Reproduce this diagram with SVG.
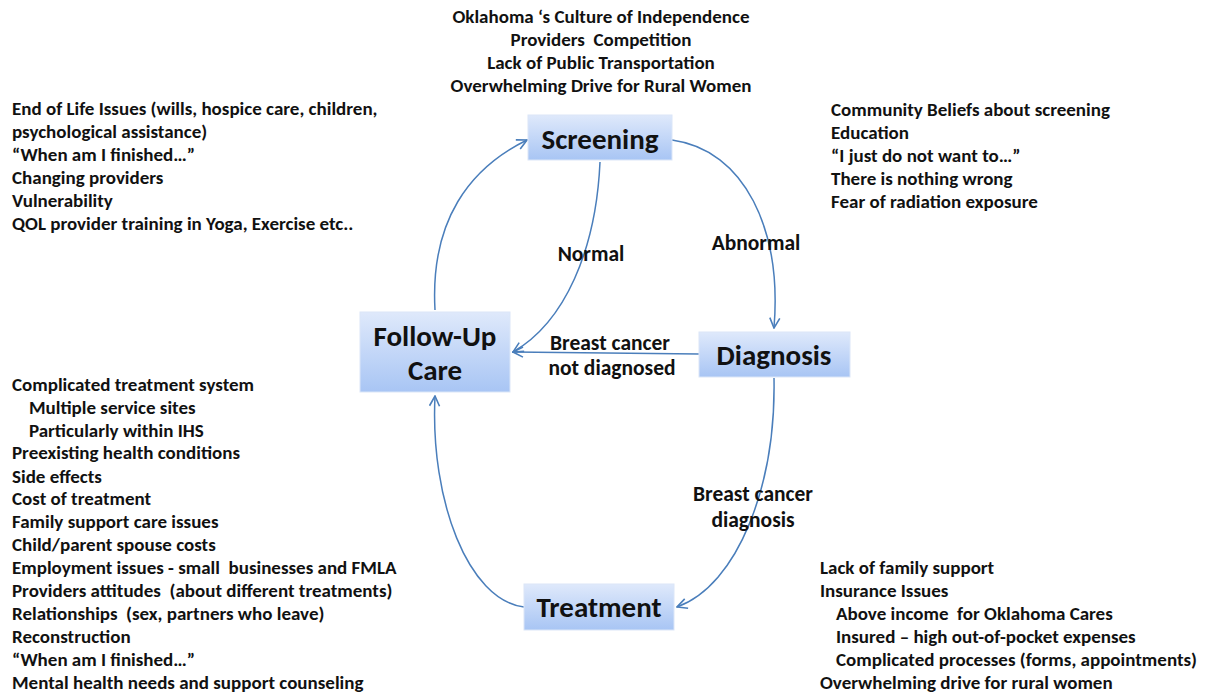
<svg xmlns="http://www.w3.org/2000/svg" width="1212" height="694" viewBox="0 0 1212 694">
<defs>
<linearGradient id="g" x1="0" y1="0" x2="0" y2="1">
<stop offset="0" stop-color="#dfe9fb"/>
<stop offset="1" stop-color="#a8c5f4"/>
</linearGradient>
<marker id="ah" viewBox="0 0 12 12" refX="11" refY="6" markerWidth="12" markerHeight="12" markerUnits="userSpaceOnUse" orient="auto">
<path d="M1,1 L11,6 L1,11" fill="none" stroke="#4a7ebb" stroke-width="1.6"/>
</marker>
</defs>
<style>
text{white-space:pre}
.t{font-family:"Carlito","Lato","Liberation Sans",sans-serif;font-weight:bold;font-size:19px;fill:#111}
.l{font-family:"Carlito","Lato","Liberation Sans",sans-serif;font-weight:bold;font-size:21.5px;fill:#111}
.n{font-family:"Carlito","Lato","Liberation Sans",sans-serif;font-weight:bold;font-size:29px;fill:#111;text-anchor:middle}
.box{fill:url(#g);stroke:#dbe6f8;stroke-width:1}
.c{fill:none;stroke:#4a7ebb;stroke-width:1.5;marker-end:url(#ah)}
</style>
<rect width="1212" height="694" fill="#fff"/>
<g id="connectors">
<path class="c" d="M672,140 C745,150 782,230 774,328"/>
<path class="c" d="M600,162 C596,250 565,322 513,352"/>
<path class="c" d="M699,354 L513,352"/>
<path class="c" d="M774,378 C776,485 738,585 677,607"/>
<path class="c" d="M524,607 C468,600 430,500 435,396"/>
<path class="c" d="M435,310 C430,220 470,168 527,140"/>
</g>
<g id="screening">
<rect class="box" x="528" y="115" width="144" height="45"/>
<text class="n" x="600" y="149">Screening</text>
</g>
<g id="followup">
<rect class="box" x="360" y="312" width="150" height="80"/>
<text class="n" x="435" y="346">Follow-Up</text>
<text class="n" x="435" y="380">Care</text>
</g>
<g id="diagnosis">
<rect class="box" x="699" y="332" width="151" height="45"/>
<text class="n" x="774" y="365">Diagnosis</text>
</g>
<g id="treatment">
<rect class="box" x="524" y="584" width="150" height="46"/>
<text class="n" x="599" y="617">Treatment</text>
</g>
<g id="labels">
<text class="l" x="591" y="261" text-anchor="middle">Normal</text>
<text class="l" x="756" y="250" text-anchor="middle">Abnormal</text>
<text class="l" x="610" y="350" text-anchor="middle">Breast cancer</text>
<text class="l" x="612" y="375" text-anchor="middle">not diagnosed</text>
<text class="l" x="753" y="501" text-anchor="middle">Breast cancer</text>
<text class="l" x="753" y="527" text-anchor="middle">diagnosis</text>
</g>
<g id="top-notes">
<text class="t" x="601" y="23" text-anchor="middle">Oklahoma ‘s Culture of Independence</text>
<text class="t" x="601" y="46" text-anchor="middle">Providers  Competition</text>
<text class="t" x="601" y="69" text-anchor="middle">Lack of Public Transportation</text>
<text class="t" x="601" y="92" text-anchor="middle">Overwhelming Drive for Rural Women</text>
</g>
<g id="followup-notes">
<text class="t" x="12" y="115">End of Life Issues (wills, hospice care, children,</text>
<text class="t" x="12" y="138">psychological assistance)</text>
<text class="t" x="12" y="161">“When am I finished…”</text>
<text class="t" x="12" y="184">Changing providers</text>
<text class="t" x="12" y="207">Vulnerability</text>
<text class="t" x="12" y="230">QOL provider training in Yoga, Exercise etc..</text>
</g>
<g id="screening-notes">
<text class="t" x="831" y="116">Community Beliefs about screening</text>
<text class="t" x="831" y="139">Education</text>
<text class="t" x="831" y="162">“I just do not want to…”</text>
<text class="t" x="831" y="185">There is nothing wrong</text>
<text class="t" x="831" y="208">Fear of radiation exposure</text>
</g>
<g id="treatment-left-notes">
<text class="t" x="12" y="391">Complicated treatment system</text>
<text class="t" x="29" y="414">Multiple service sites</text>
<text class="t" x="29" y="437">Particularly within IHS</text>
<text class="t" x="12" y="459">Preexisting health conditions</text>
<text class="t" x="12" y="483">Side effects</text>
<text class="t" x="12" y="505">Cost of treatment</text>
<text class="t" x="12" y="528">Family support care issues</text>
<text class="t" x="12" y="551">Child/parent spouse costs</text>
<text class="t" x="12" y="574">Employment issues - small  businesses and FMLA</text>
<text class="t" x="12" y="597">Providers attitudes  (about different treatments)</text>
<text class="t" x="12" y="620">Relationships  (sex, partners who leave)</text>
<text class="t" x="12" y="643">Reconstruction</text>
<text class="t" x="12" y="666">“When am I finished…”</text>
<text class="t" x="12" y="689">Mental health needs and support counseling</text>
</g>
<g id="treatment-right-notes">
<text class="t" x="820" y="574">Lack of family support</text>
<text class="t" x="820" y="597">Insurance Issues</text>
<text class="t" x="836" y="620">Above income  for Oklahoma Cares</text>
<text class="t" x="836" y="643">Insured – high out-of-pocket expenses</text>
<text class="t" x="836" y="666">Complicated processes (forms, appointments)</text>
<text class="t" x="820" y="689">Overwhelming drive for rural women</text>
</g>
</svg>
